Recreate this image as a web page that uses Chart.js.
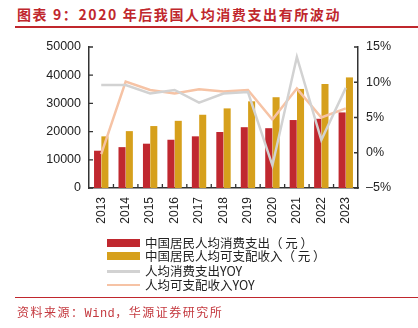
<!DOCTYPE html>
<html><head><meta charset="utf-8">
<script src="https://cdn.jsdelivr.net/npm/chart.js@4"></script>
<style>
html,body{margin:0;padding:0;background:#fff;}
#wrap{position:relative;width:418px;height:328px;overflow:hidden;background:#fff;font-family:"Liberation Sans",Arial,sans-serif;}
#title{position:absolute;left:17px;top:4px;font-family:"Noto Sans CJK SC",sans-serif;font-weight:700;font-size:14px;letter-spacing:1.6px;color:#c0272d;white-space:nowrap;line-height:20px;}
#tline{position:absolute;left:15px;top:26px;width:403px;height:1.5px;background:#c0272d;}
#cbox{position:absolute;left:0;top:0;width:418px;height:235px;}
#legend{position:absolute;left:0;top:0;width:418px;height:328px;pointer-events:none;}
.li{position:absolute;left:107px;height:14px;white-space:nowrap;}
.sw{position:absolute;left:0;width:33px;}
.lt{position:absolute;left:38px;top:-1px;font-family:"Noto Sans CJK SC",sans-serif;font-size:12.5px;line-height:16px;color:#222;}
#sline{position:absolute;left:15px;top:296.5px;width:403px;height:1.2px;background:#c0272d;}
#source{position:absolute;left:17px;top:303px;font-family:"Noto Sans CJK SC",sans-serif;font-size:12px;letter-spacing:1.5px;color:#c4393f;white-space:nowrap;line-height:18px;}
#source .m{font-family:"Liberation Mono",monospace;letter-spacing:0.5px;}
</style></head>
<body>
<div id="wrap">
  <div id="title">图表 9：2020 年后我国人均消费支出有所波动</div>
  <div id="tline"></div>
  <div id="cbox"><canvas id="c" width="418" height="235"></canvas></div>
  <div id="legend"></div>
  <div id="sline"></div>
  <div id="source">资料来源：<span class="m">Wind</span>，华源证券研究所</div>
</div>
<script>
// ---- data ----
const years = ['2013','2014','2015','2016','2017','2018','2019','2020','2021','2022','2023'];
const consumption = [13220,14491,15712,17111,18322,19853,21559,21210,24100,24538,26796];
const income = [18311,20167,21966,23821,25974,28228,30733,32189,35128,36883,39218];
const consumptionYoY = [9.6,9.6,8.4,8.9,7.1,8.4,8.6,-1.8,13.6,1.8,9.2];
const incomeYoY = [-0.2,10.1,8.9,8.4,9.0,8.7,8.9,4.7,9.1,5.0,6.3];
const seriesNames = ['中国居民人均消费支出（ 元 ）','中国居民人均可支配收入（ 元 ）','人均消费支出YOY','人均可支配收入YOY'];
const leftTicks = [0,10000,20000,30000,40000,50000];
const rightTicks = [-5,0,5,10,15];

const RED='#c0282f', GOLD='#d6a01c', GRAY='#d2d2d2', PEACH='#f6c3a5', AX='#333333';

const innerTicks = {
  id:'innerTicks',
  afterDraw(chart){
    const ctx=chart.ctx, a=chart.chartArea;
    const x=chart.scales.x, y=chart.scales.y, y1=chart.scales.y1;
    ctx.save();
    ctx.strokeStyle=AX; ctx.lineWidth=1.3;
    ctx.beginPath();
    for(let i=0;i<years.length-1;i++){
      const px=(x.getPixelForValue(i)+x.getPixelForValue(i+1))/2;
      ctx.moveTo(px,a.bottom); ctx.lineTo(px,a.bottom-4);
    }
    leftTicks.forEach(v=>{const py=y.getPixelForValue(v); ctx.moveTo(a.left,py); ctx.lineTo(a.left+4,py);});
    rightTicks.forEach(v=>{const py=y1.getPixelForValue(v); ctx.moveTo(a.right,py); ctx.lineTo(a.right-4,py);});
    ctx.stroke();
    ctx.restore();
  }
};

const tickFont={family:'"Liberation Sans", Arial, sans-serif',size:12.5};
const chart=new Chart(document.getElementById('c'),{
  type:'bar',
  data:{
    labels:years,
    datasets:[
      {type:'line',label:seriesNames[2],data:consumptionYoY,yAxisID:'y1',borderColor:GRAY,borderWidth:2.5,pointRadius:0,tension:0,order:0},
      {type:'line',label:seriesNames[3],data:incomeYoY,yAxisID:'y1',borderColor:PEACH,borderWidth:2.5,pointRadius:0,tension:0,order:0},
      {label:seriesNames[0],data:consumption,yAxisID:'y',backgroundColor:RED,categoryPercentage:0.6,barPercentage:0.96,order:1},
      {label:seriesNames[1],data:income,yAxisID:'y',backgroundColor:GOLD,categoryPercentage:0.6,barPercentage:0.96,order:1}
    ]
  },
  options:{
    responsive:false,animation:false,devicePixelRatio:1,
    layout:{padding:{top:47,left:0,right:0,bottom:0}},
    plugins:{legend:{display:false},tooltip:{enabled:false}},
    scales:{
      x:{
        grid:{display:false,drawTicks:false},
        border:{display:true,color:AX,width:1.5},
        ticks:{font:{family:'"Liberation Sans", Arial, sans-serif',size:12},color:'#222',minRotation:90,maxRotation:90,padding:9,autoSkip:false},
        afterFit(s){s.height=47;}
      },
      y:{
        position:'left',min:0,max:50000,
        afterBuildTicks(s){s.ticks=leftTicks.map(v=>({value:v}));},
        grid:{display:false,drawTicks:false},
        border:{display:true,color:AX,width:1.5},
        ticks:{font:tickFont,color:'#222',padding:8,callback:v=>String(v)},
        afterFit(s){s.width=89;}
      },
      y1:{
        position:'right',min:-5,max:15,
        afterBuildTicks(s){s.ticks=rightTicks.map(v=>({value:v}));},
        grid:{display:false,drawTicks:false},
        border:{display:true,color:AX,width:1.5},
        ticks:{font:tickFont,color:'#222',padding:8,callback:v=>(v<0?'\u2013'+Math.abs(v):v)+'%'},
        afterFit(s){s.width=60;}
      }
    }
  },
  plugins:[innerTicks]
});

// HTML legend built from datasets
const lg=document.getElementById('legend');
const rows=[243,256,271,284.5];
const legendOrder=[2,3,0,1];
legendOrder.forEach((di,k)=>{
  const ds=chart.data.datasets[di];
  const li=document.createElement('div'); li.className='li'; li.style.top=(rows[k]-7)+'px';
  const sw=document.createElement('div'); sw.className='sw';
  if(ds.type==='line'){ sw.style.top='6px'; sw.style.height='2.5px'; sw.style.background=ds.borderColor; }
  else { sw.style.top='3px'; sw.style.height='8px'; sw.style.background=ds.backgroundColor; }
  const t=document.createElement('div'); t.className='lt'; t.textContent=ds.label;
  li.appendChild(sw); li.appendChild(t); lg.appendChild(li);
});
</script>
</body></html>
